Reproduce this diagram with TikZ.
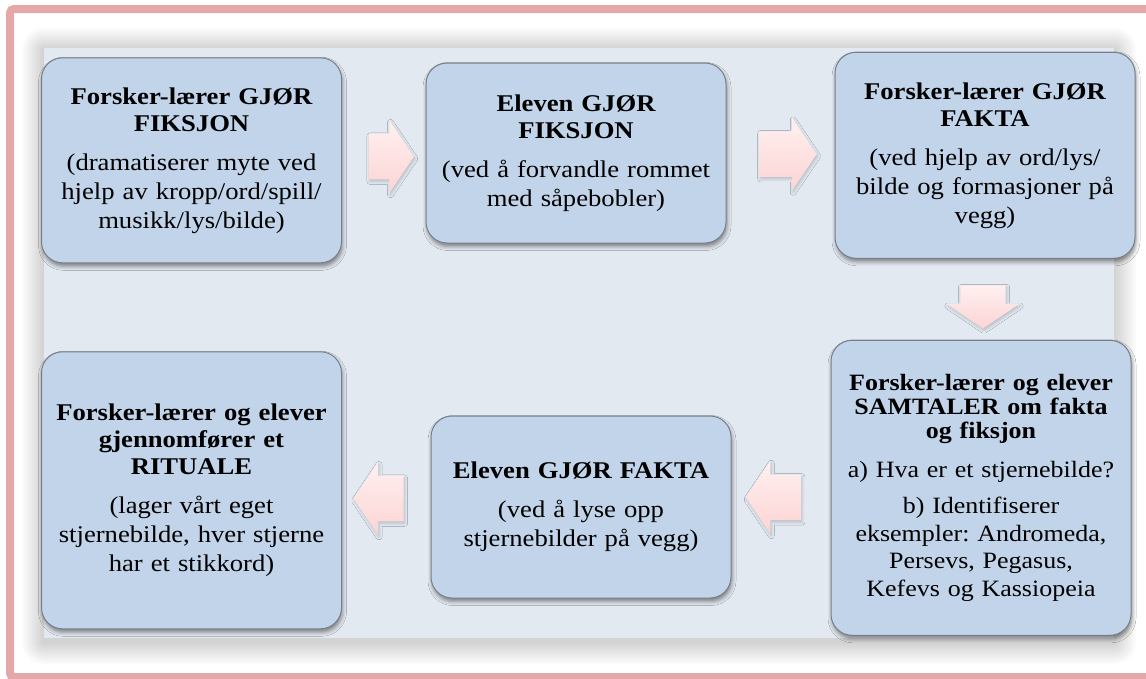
\documentclass[tikz,border=0pt]{standalone}
\usepackage{fontspec}
\setmainfont[FakeStretch=1.11]{Liberation Serif}
\usetikzlibrary{shapes.arrows,shadows.blur,calc}

\definecolor{framepink}{RGB}{228,168,168}
\definecolor{panelblue}{RGB}{227,233,241}
\definecolor{boxblue}{RGB}{194,212,233}
\definecolor{boxline}{RGB}{118,126,136}
\definecolor{arrowpink}{RGB}{252,212,212}
\definecolor{arrowlight}{RGB}{255,240,240}

\newcommand{\stephead}[1]{{\bfseries\fontsize{24}{27}\selectfont #1\par}\vspace{10pt}}

\tikzset{
  stepbox/.style={draw=boxline, line width=1pt, fill=boxblue, rounded corners=21pt,
    minimum width=300pt, text width=296pt, inner sep=2pt, align=center,
    font=\fontsize{24}{29}\selectfont,
    blur shadow={shadow xshift=1pt, shadow yshift=-3.5pt, shadow blur radius=4pt, shadow opacity=45}},
  flowarrow/.style={single arrow, single arrow head extend=13.5pt,
    single arrow tip angle=112, inner xsep=0pt, inner ysep=22.5pt, top color=arrowlight, bottom color=arrowpink,
    blur shadow={shadow xshift=1pt, shadow yshift=-2pt, shadow blur radius=3pt, shadow opacity=20}}
}

\begin{document}
\frenchspacing
\begin{tikzpicture}[x=1pt,y=-1pt]
\useasboundingbox (0,0) rectangle (1146,678);
\fill[white] (0,0) rectangle (1146,678);
% background panel with a soft glow, and the frame
\foreach \d in {2,4,...,22}
  \fill[black, opacity=0.014, rounded corners=\d pt] (44-\d,48-\d+2) rectangle (1114+\d,638+\d+4);
\fill[panelblue] (44,48) rectangle (1114,638);
\draw[framepink, line width=8pt, rounded corners=4pt] (1160,9) -- (10,9) -- (10,677) -- (1160,677);

\path
(191.5,160.3) node[stepbox, minimum height=205pt] (b1)
  {\stephead{Forsker-lærer GJØR\\FIKSJON}(dramatiserer myte ved\\hjelp av kropp/ord/spill/\\musikk/lys/bilde)}
(576,153) node[stepbox, minimum height=180pt] (b2)
  {\stephead{Eleven GJØR\\FIKSJON}(ved å forvandle rommet\\med såpebobler)}
(985,155.3) node[stepbox, minimum height=206pt] (b3)
  {\stephead{Forsker-lærer GJØR\\FAKTA}(ved hjelp av ord/lys/\\bilde og formasjoner på\\vegg)}
(981,487.8) node[stepbox, minimum height=295pt, font=\fontsize{23.4}{27.5}\selectfont] (b4)
  {{\bfseries\fontsize{23.4}{24}\selectfont Forsker-lærer og elever\\SAMTALER om fakta\\og fiksjon\par}\vspace{11pt}
   a) Hva er et stjernebilde?\par\vspace{9pt}
   b) Identifiserer\\eksempler: Andromeda,\\Persevs, Pegasus,\\Kefevs og Kassiopeia}
(581,507) node[stepbox, minimum height=182pt] (b5)
  {\stephead{Eleven GJØR FAKTA}(ved å lyse opp\\stjernebilder på vegg)}
(191.5,490.3) node[stepbox, minimum height=277pt] (b6)
  {\stephead{Forsker-lærer og elever\\gjennomfører et\\RITUALE}(lager vårt eget\\stjernebilde, hver stjerne\\har et stikkord)};

% block arrows between the steps
\node[flowarrow, minimum height=45pt] (a12) at ($(b1.east)!0.5!(b2.west)$) {};
\node[flowarrow, minimum height=57pt] (a23) at ($(b2.east)!0.5!(b3.west)$) {};
\node[flowarrow, minimum height=43pt, shape border rotate=270, inner xsep=22.5pt, inner ysep=0pt]
  (a34) at ($(b3.south)!0.5!(b4.north)$) {};
\node[flowarrow, minimum height=55pt, shape border rotate=180] (a45) at ($(b4.west)!0.5!(b5.east)$) {};
\node[flowarrow, minimum height=50pt, shape border rotate=180] (a56) at ($(b5.west)!0.5!(b6.east)$) {};
\end{tikzpicture}
\end{document}
